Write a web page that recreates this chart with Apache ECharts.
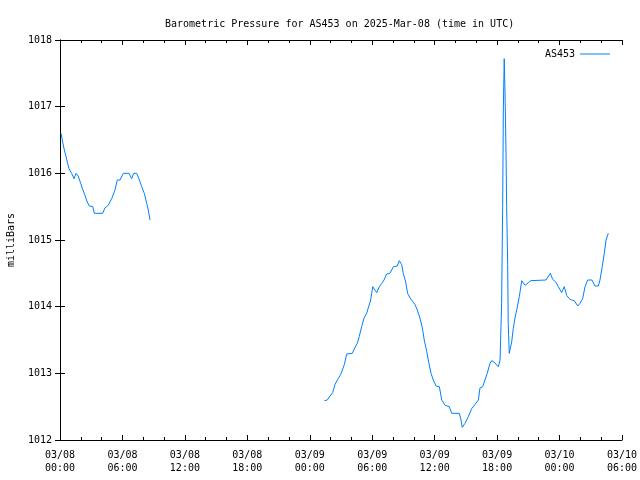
<!DOCTYPE html>
<html>
<head>
<meta charset="utf-8">
<script src="https://cdn.jsdelivr.net/npm/echarts@6/dist/echarts.min.js"></script>
<style>html,body{margin:0;padding:0;background:#fff;}#c{width:640px;height:480px;}</style>
</head>
<body>
<div id="c"></div>
<script>
// Segment 1 (03/08)
var times1 = ['03/08 00:06','03/08 00:17','03/08 00:25','03/08 00:35','03/08 00:44','03/08 00:52','03/08 01:07','03/08 01:21','03/08 01:32','03/08 01:45','03/08 01:59','03/08 02:11','03/08 02:24','03/08 02:37','03/08 02:49','03/08 03:09','03/08 03:18','03/08 04:06','03/08 04:19','03/08 04:38','03/08 04:58','03/08 05:17','03/08 05:30','03/08 05:46','03/08 06:05','03/08 06:38','03/08 06:53','03/08 07:05','03/08 07:22','03/08 07:35','03/08 07:51','03/08 08:06','03/08 08:20','03/08 08:29','03/08 08:39'];
var pressure1 = [1016.6,1016.45,1016.35,1016.25,1016.15,1016.07,1016.0,1015.92,1016.0,1015.96,1015.85,1015.76,1015.67,1015.57,1015.51,1015.5,1015.4,1015.4,1015.48,1015.52,1015.62,1015.75,1015.9,1015.9,1016.0,1016.0,1015.92,1016.0,1016.0,1015.92,1015.8,1015.7,1015.55,1015.45,1015.3];
// Segment 2 (03/09 - 03/10)
var times2 = ['03/09 01:24','03/09 01:41','03/09 01:57','03/09 02:12','03/09 02:25','03/09 02:41','03/09 02:58','03/09 03:07','03/09 03:19','03/09 03:33','03/09 04:05','03/09 04:21','03/09 04:34','03/09 04:45','03/09 04:59','03/09 05:13','03/09 05:28','03/09 05:37','03/09 05:51','03/09 06:03','03/09 06:12','03/09 06:26','03/09 06:39','03/09 06:55','03/09 07:08','03/09 07:23','03/09 07:42','03/09 08:02','03/09 08:25','03/09 08:36','03/09 08:50','03/09 08:59','03/09 09:13','03/09 09:24','03/09 09:38','03/09 09:53','03/09 10:07','03/09 10:20','03/09 10:35','03/09 10:49','03/09 11:00','03/09 11:14','03/09 11:27','03/09 11:39','03/09 11:52','03/09 12:08','03/09 12:27','03/09 12:41','03/09 13:00','03/09 13:24','03/09 13:38','03/09 14:22','03/09 14:32','03/09 14:39','03/09 14:55','03/09 15:14','03/09 15:33','03/09 15:52','03/09 16:12','03/09 16:21','03/09 16:37','03/09 16:50','03/09 17:03','03/09 17:19','03/09 17:29','03/09 17:42','03/09 18:07','03/09 18:17','03/09 18:26','03/09 18:32','03/09 18:36','03/09 18:41','03/09 18:45','03/09 18:47','03/09 18:51','03/09 18:55','03/09 19:01','03/09 19:04','03/09 19:10','03/09 19:14','03/09 19:24','03/09 19:33','03/09 19:43','03/09 19:53','03/09 20:08','03/09 20:22','03/09 20:41','03/09 21:00','03/09 21:14','03/09 22:42','03/09 23:07','03/09 23:20','03/09 23:38','03/09 23:53','03/10 00:12','03/10 00:27','03/10 00:41','03/10 00:56','03/10 01:10','03/10 01:25','03/10 01:45','03/10 01:58','03/10 02:13','03/10 02:27','03/10 02:42','03/10 03:07','03/10 03:24','03/10 03:43','03/10 03:53','03/10 04:06','03/10 04:18','03/10 04:28','03/10 04:41'];
var pressure2 = [1012.59,1012.6,1012.66,1012.71,1012.83,1012.91,1012.98,1013.01,1013.13,1013.29,1013.3,1013.39,1013.45,1013.55,1013.7,1013.83,1013.9,1013.91,1014.1,1014.3,1014.28,1014.21,1014.29,1014.35,1014.4,1014.49,1014.5,1014.6,1014.61,1014.69,1014.63,1014.5,1014.37,1014.2,1014.13,1014.08,1014.03,1013.95,1013.83,1013.68,1013.5,1013.33,1013.15,1013.0,1012.9,1012.81,1012.8,1012.6,1012.52,1012.5,1012.4,1012.4,1012.3,1012.19,1012.25,1012.35,1012.47,1012.53,1012.6,1012.78,1012.8,1012.9,1013.0,1013.15,1013.19,1013.17,1013.1,1013.2,1014.05,1015.5,1016.98,1017.72,1017.28,1017.0,1016.38,1015.5,1014.63,1013.75,1013.3,1013.35,1013.47,1013.67,1013.83,1013.95,1014.15,1014.39,1014.32,1014.36,1014.39,1014.4,1014.5,1014.41,1014.37,1014.3,1014.21,1014.3,1014.17,1014.12,1014.1,1014.09,1014.01,1014.05,1014.12,1014.3,1014.4,1014.4,1014.31,1014.31,1014.4,1014.6,1014.8,1015.0,1015.1];
var yTicks = [1012,1013,1014,1015,1016,1017,1018];

function toHours(s) {
  var day = parseInt(s.slice(3,5),10) - 8;
  var h = parseInt(s.slice(6,8),10);
  var m = parseInt(s.slice(9,11),10);
  return day*24 + h + m/60;
}
function pad(n){ return (n<10?'0':'')+n; }
var data = [];
times1.forEach(function(t,i){ data.push([toHours(t), pressure1[i]]); });
data.push([(toHours(times1[times1.length-1]) + toHours(times2[0]))/2, null]);
times2.forEach(function(t,i){ data.push([toHours(t), pressure2[i]]); });

var FONT = 'DejaVu Sans Mono';
var chart = echarts.init(document.getElementById('c'), null, {renderer:'canvas'});
var axLine = {show:true, lineStyle:{color:'#000', width:1}};
var option = {
  animation: false,
  backgroundColor: '#fff',
  textStyle: {fontFamily: FONT},
  title: {
    text: 'Barometric Pressure for AS453 on 2025-Mar-08 (time in UTC)',
    left: 160, top: 14,
    textStyle: {fontFamily: FONT, fontSize: 10, fontWeight: 'normal', color: '#000'}
  },
  legend: {
    right: 25, top: 44, align: 'right',
    icon: 'rect', itemWidth: 30, itemHeight: 1,
    textStyle: {fontFamily: FONT, fontSize: 10, color: '#000'},
    data: ['AS453']
  },
  grid: {left: 60, right: 18, top: 40, bottom: 40, containLabel: false, outerBoundsMode: 'none'},
  xAxis: [{
    type: 'value', min: 0, max: 54, interval: 6,
    axisLine: axLine,
    axisTick: {show:true, inside:true, length:5, lineStyle:{color:'#000'}},
    minorTick: {show:true, splitNumber:3, length:3, lineStyle:{color:'#000'}},
    splitLine: {show:false},
    axisLabel: {
      fontFamily: FONT, fontSize: 10, color: '#000', margin: 9, lineHeight: 13,
      formatter: function(v){
        var d = 8 + Math.floor(v/24);
        var h = v % 24;
        return '03/' + pad(d) + '\n' + pad(h) + ':00';
      }
    }
  },{
    type: 'value', min: 0, max: 54, interval: 6, position: 'top',
    axisLine: axLine,
    axisTick: {show:true, inside:true, length:5, lineStyle:{color:'#000'}},
    minorTick: {show:true, splitNumber:3, length:3, lineStyle:{color:'#000'}},
    splitLine: {show:false}, axisLabel: {show:false}
  }],
  yAxis: [{
    type: 'value', min: yTicks[0], max: yTicks[yTicks.length-1], interval: 1,
    name: 'milliBars', nameLocation: 'middle', nameRotate: 90, nameGap: 44,
    nameTextStyle: {fontFamily: FONT, fontSize: 10, color: '#000'},
    axisLine: axLine,
    axisTick: {show:true, inside:true, length:5, lineStyle:{color:'#000'}},
    splitLine: {show:false},
    axisLabel: {fontFamily: FONT, fontSize: 10, color: '#000', margin: 8,
      formatter: function(v){ return String(v); }}
  },{
    type: 'value', min: yTicks[0], max: yTicks[yTicks.length-1], interval: 1, position: 'right',
    axisLine: axLine,
    axisTick: {show:true, inside:true, length:5, lineStyle:{color:'#000'}},
    splitLine: {show:false}, axisLabel: {show:false}
  }],
  series: [{
    name: 'AS453', type: 'line', data: data,
    xAxisIndex: 0, yAxisIndex: 0,
    showSymbol: false, symbol: 'none', connectNulls: false,
    lineStyle: {color: '#0080ff', width: 1},
    itemStyle: {color: '#0080ff'}
  }]
};
chart.setOption(option);
</script>
</body>
</html>
